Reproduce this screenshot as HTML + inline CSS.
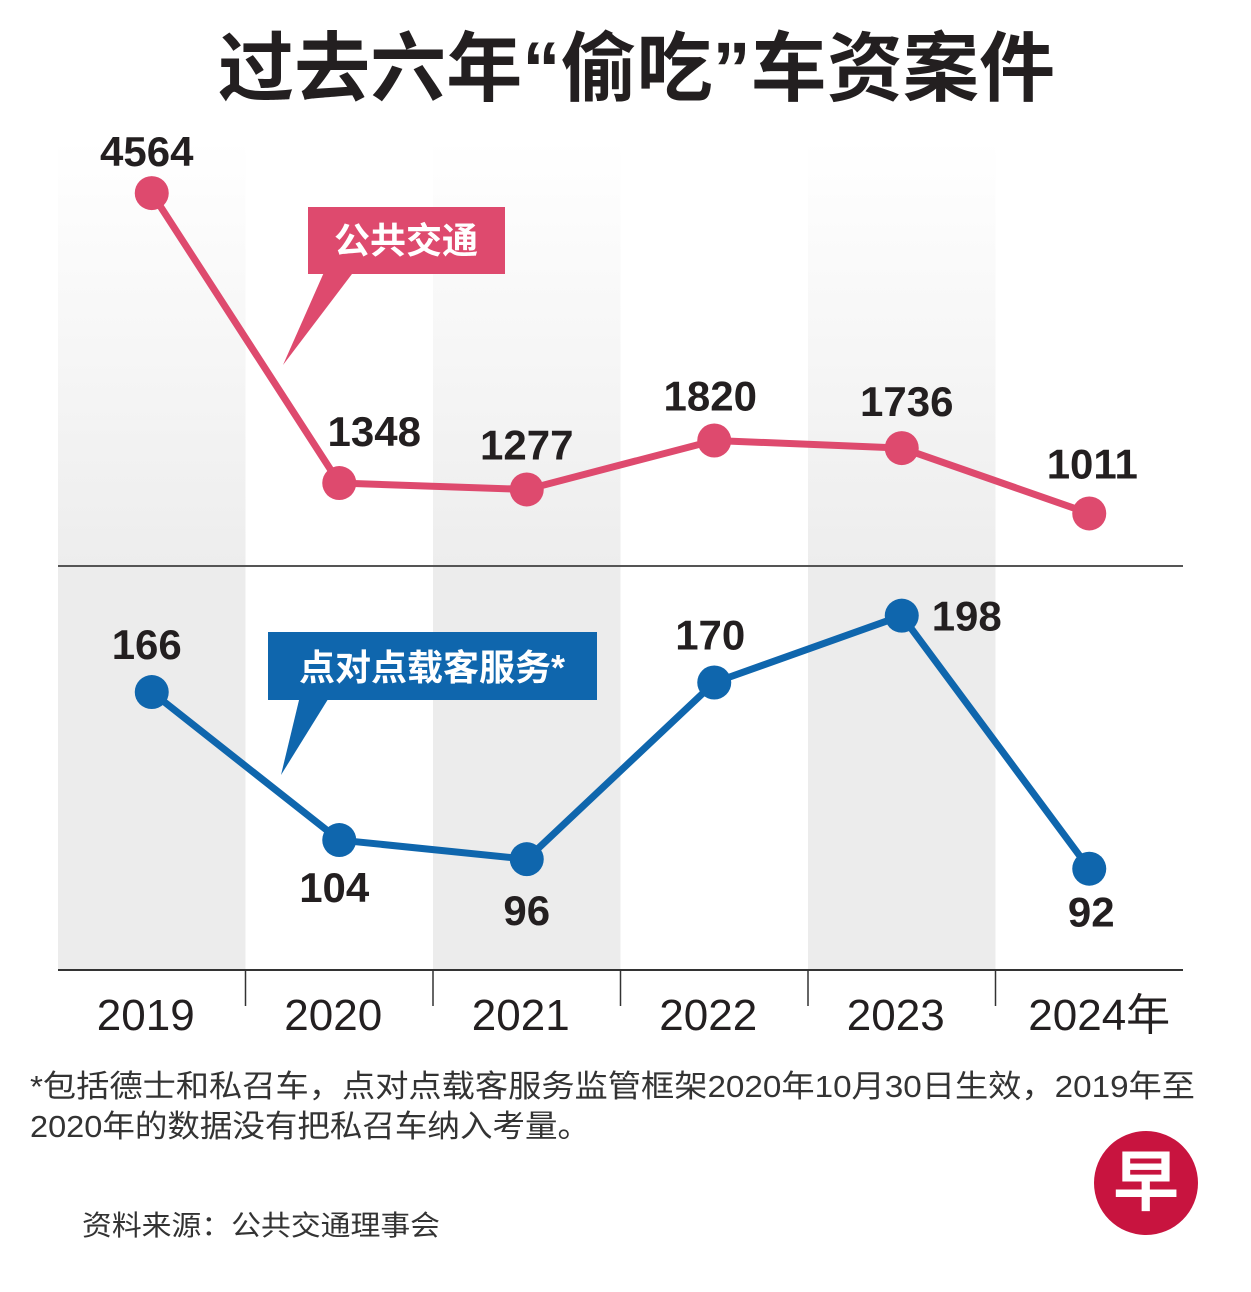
<!DOCTYPE html>
<html><head><meta charset="utf-8"><style>
body{margin:0;background:#fff;}
svg text{font-family:"Liberation Sans","Noto Sans CJK SC",sans-serif;}
</style></head><body>
<svg width="1251" height="1287" viewBox="0 0 1251 1287">
<defs>
<linearGradient id="g1" x1="0" y1="0" x2="0" y2="1"><stop offset="0" stop-color="#fff"/><stop offset="1" stop-color="#ededed"/></linearGradient>
</defs>
<text x="218" y="95" font-size="76" font-weight="bold" textLength="837" lengthAdjust="spacing" fill="#231f20">过去六年“偷吃”车资案件</text>
<g id="bands"></g>
<line x1="58" y1="566" x2="1183" y2="566" stroke="#555" stroke-width="2"/>
<line x1="58" y1="970" x2="1183" y2="970" stroke="#333" stroke-width="2"/>
<g id="ticks"></g>
<g id="series"></g>
<g>
<polygon points="325,270 355,270 283,365" fill="#de4a6e"/>
<rect x="308" y="207" width="197" height="67" fill="#de4a6e"/>
<text x="406" y="253" font-size="36" font-weight="bold" fill="#fff" text-anchor="middle">公共交通</text>
</g>
<g>
<polygon points="300,696 330,696 281,775" fill="#0f66ad"/>
<rect x="268" y="632" width="329" height="68" fill="#0f66ad"/>
<text x="432" y="680" font-size="36" font-weight="bold" fill="#fff" text-anchor="middle">点对点载客服务*</text>
</g>
<text x="30" y="1097" font-size="31" textLength="1165" lengthAdjust="spacingAndGlyphs" fill="#333">*包括德士和私召车，点对点载客服务监管框架2020年10月30日生效，2019年至</text>
<text x="30" y="1137" font-size="31" textLength="560" lengthAdjust="spacingAndGlyphs" fill="#333">2020年的数据没有把私召车纳入考量。</text>
<text x="82" y="1235" font-size="28" textLength="358" lengthAdjust="spacingAndGlyphs" fill="#333">资料来源：公共交通理事会</text>
<g>
<circle cx="1146" cy="1183" r="52" fill="#c8143f"/>
<text x="1146" y="1205" font-size="66" font-weight="bold" fill="#fff" text-anchor="middle">早</text>
</g>
</svg>
<script>
const years=["2019","2020","2021","2022","2023","2024年"];
const publicTransport=[4564,1348,1277,1820,1736,1011];
const p2p=[166,104,96,170,198,92];
const ns="http://www.w3.org/2000/svg";
function mk(t,a,p){const e=document.createElementNS(ns,t);for(const k in a)e.setAttribute(k,a[k]);p.appendChild(e);return e;}
const x0=58,colW=187.5;
function xs(i){return x0+colW*i+colW/2;}
function yTop(v){return 604.6-v*0.09017;}
function yBot(v){return 1088.3-v*2.387;}
const bands=document.getElementById('bands'),ticks=document.getElementById('ticks'),series=document.getElementById('series');
years.forEach((y,i)=>{
 if(i%2===0){
  const r=mk('rect',{x:x0+colW*i,y:140,width:colW,height:426,fill:'url(#g1)'},bands);
  
  
  const r2=mk('rect',{x:x0+colW*i,y:567,width:colW,height:403,fill:'#ececec'},bands);
  
  
 }
 if(i>0){const t=mk('line',{x1:x0+colW*i,y1:970,x2:x0+colW*i,y2:1006,stroke:'#333','stroke-width':1.5},ticks);
  
  }
 const l=mk('text',{x:xs(i)+(i===5?10:-6),y:1030,'font-size':44,'text-anchor':'middle',fill:'#231f20'},ticks);
 l.textContent=y;
 
 
});
function draw(vals,yf,color,name,lblOff){
 const pts=vals.map((v,i)=>xs(i)+','+yf(v)).join(' ');
 const pl=mk('polyline',{points:pts,fill:'none',stroke:color,'stroke-width':7,'stroke-linejoin':'round'},series);
 
 
 vals.forEach((v,i)=>{
  const c=mk('circle',{cx:xs(i),cy:yf(v),r:17,fill:color},series);
  
  
  const o=lblOff[i];
  const t=mk('text',{x:xs(i)+o[0],y:yf(v)+o[1],'font-size':42,'font-weight':'bold','text-anchor':'middle',fill:'#231f20'},series);
  t.textContent=v;
  
  
 });
}
draw(publicTransport,yTop,'#de4a6e','public-transport',[[-5,-27],[35,-37],[0,-30],[-4,-30],[5,-32],[3,-35]]);
draw(p2p,yBot,'#0f66ad','p2p',[[-5,-33],[-5,62],[0,66],[-4,-33],[65,15],[2,58]]);
</script>
</body></html>
